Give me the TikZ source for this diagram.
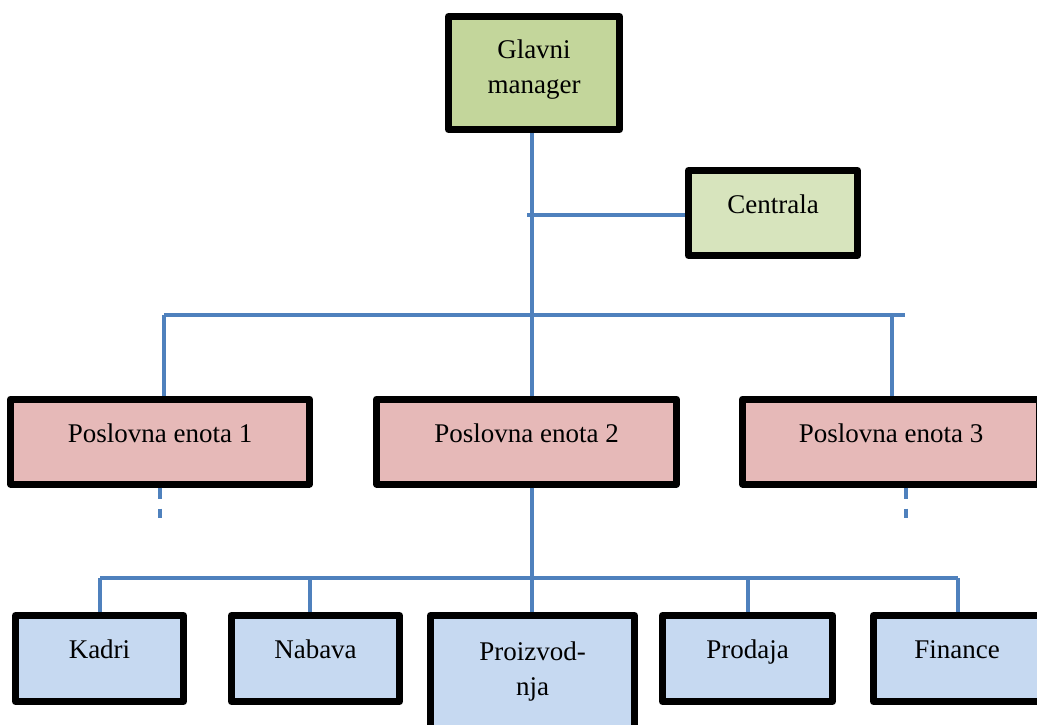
\documentclass[tikz,border=0pt]{standalone}
\usepackage{fontspec}
\setmainfont{Liberation Serif}
\definecolor{linkblue}{HTML}{4F81BD}
\definecolor{headgreen}{HTML}{C3D69B}
\definecolor{subgreen}{HTML}{D7E4BD}
\definecolor{unitpink}{HTML}{E6B9B8}
\definecolor{deptblue}{HTML}{C6D9F1}
\begin{document}
\begin{tikzpicture}[x=1pt,y=-1pt,
  box/.style={draw=black, line width=7pt, line join=round, inner sep=0pt,
    anchor=north west, align=center, font=\fontsize{27}{34.5}\selectfont},
  headbox/.style={box, fill=headgreen},
  hqbox/.style={box, fill=subgreen},
  unitbox/.style={box, fill=unitpink, minimum height=85pt, text height=43pt, text depth=42pt},
  deptbox/.style={box, fill=deptblue, minimum height=86pt, text height=42.5pt, text depth=43.5pt},
  link/.style={draw=linkblue, line width=3.2pt},
  stub/.style={link, dash pattern=on 11pt off 10pt}]
\useasboundingbox (0,0) rectangle (1037,725);

% top management (two-line texts sit on the baseline of their last line)
\node[headbox, minimum width=171pt, minimum height=113pt, text height=76.5pt, text depth=36.5pt]
  (gm) at (445,13) {Glavni\\manager};
\node[hqbox, minimum width=169pt, minimum height=85pt, text height=42.5pt, text depth=42.5pt]
  (cen) at (685,167) {Centrala};

% business units
\node[unitbox, minimum width=299pt] (pe1) at (7,395.5) {Poslovna enota 1};
\node[unitbox, minimum width=300pt] (pe2) at (373,395.5) {Poslovna enota 2};
\node[unitbox, minimum width=297pt] (pe3) at (739,395.5) {Poslovna enota 3};

% departments of unit 2
\node[deptbox, minimum width=168pt] (kadri) at (12,612) {Kadri};
\node[deptbox, minimum width=168pt] (nabava) at (228,612) {Nabava};
\node[box, fill=deptblue, minimum width=204pt, minimum height=125pt, text height=79.5pt, text depth=45.5pt]
  (proiz) at (427,612) {Proizvod-\\nja};
\node[deptbox, minimum width=170pt] (prodaja) at (659,612) {Prodaja};
\node[deptbox, minimum width=167pt] (finance) at (870,612) {Finance};

% trunk and branch to headquarters
\coordinate (trunk) at (532,0);
\coordinate (hqj) at (527,215);
\draw[link] (gm.south -| trunk) -- (pe2.north -| trunk);
\draw[link] (hqj) -- (hqj -| cen.west);

% upper bus to the business units
\coordinate (ubL) at (164,315);
\coordinate (ubR) at (905,315);
\coordinate (ub3) at (892,315);
\draw[link] (ubL) -- (ubR);
\draw[link] (ubL) -- (ubL |- pe1.north);
\draw[link] (ub3) -- (ub3 |- pe3.north);

% continuation marks below units 1 and 3
\coordinate (s1) at (160,518);
\coordinate (s3) at (906,518);
\draw[stub] (s1 |- pe1.south) -- (s1);
\draw[stub] (s3 |- pe3.south) -- (s3);

% lower bus to the departments
\coordinate (lbL) at (100,578);
\coordinate (lbR) at (958,578);
\coordinate (lb2) at (310,578);
\coordinate (lb4) at (748,578);
\draw[link] (pe2.south -| trunk) -- (proiz.north -| trunk);
\draw[link] (lbL) -- (lbR);
\draw[link] (lbL) -- (lbL |- kadri.north);
\draw[link] (lb2) -- (lb2 |- nabava.north);
\draw[link] (lb4) -- (lb4 |- prodaja.north);
\draw[link] (lbR) -- (lbR |- finance.north);
\end{tikzpicture}
\end{document}
